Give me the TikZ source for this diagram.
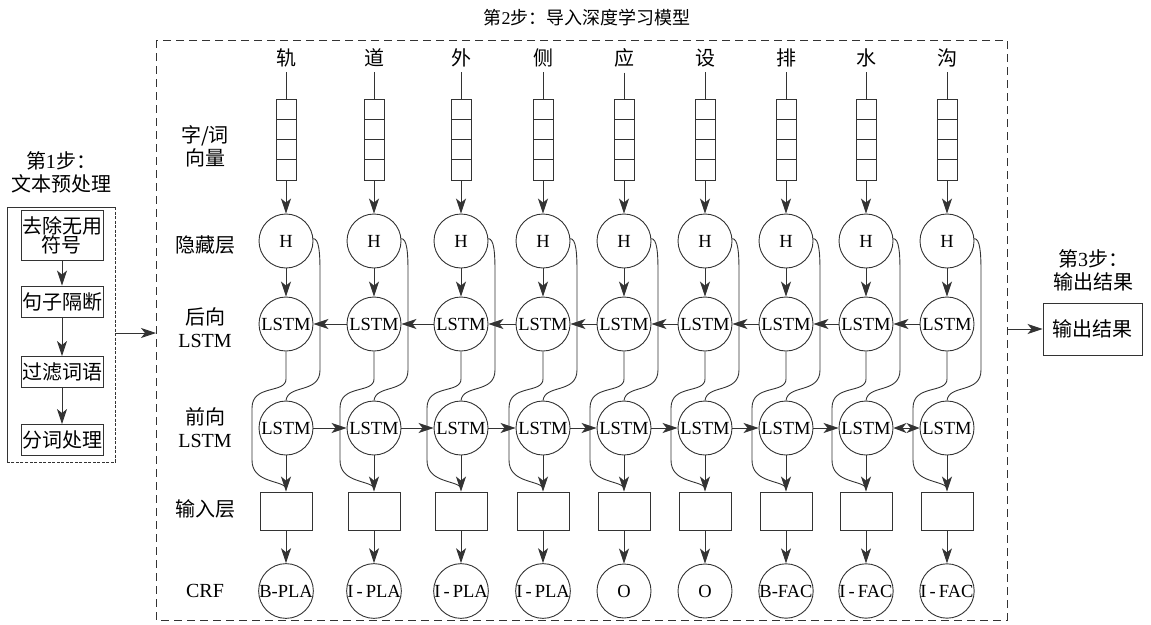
\documentclass[tikz,border=0pt]{standalone}
\usepackage{fontspec}
\setmainfont{Liberation Serif}
\newfontfamily\cjk{Noto Sans CJK SC}
\usetikzlibrary{arrows.meta}
\begin{document}
\begin{tikzpicture}[x=1pt,y=-1pt,
  ln/.style={draw=black!80, line width=0.9pt},
  arr/.style={ln, -{Stealth[length=15pt,width=10pt,inset=4pt]}},
  darr/.style={ln, {Stealth[length=13pt,width=10pt,inset=4pt]}-{Stealth[length=13pt,width=10pt,inset=4pt]}},
  circ/.style={circle, ln, minimum size=54pt, inner sep=0pt, font=\fontsize{18.5}{18.5}\selectfont},
  inbox/.style={rectangle, ln, minimum width=52pt, minimum height=38pt, inner sep=0pt},
  vecbox/.style={rectangle, ln, minimum width=20pt, minimum height=81pt, inner sep=0pt},
  stepbox/.style={rectangle, ln, minimum width=81pt, inner sep=1pt, align=center, font=\fontsize{20}{22}\selectfont\cjk},
  cjklbl/.style={font=\fontsize{20}{23}\selectfont\cjk, align=center, inner sep=0pt},
  mixlbl/.style={font=\fontsize{20}{23}\selectfont, align=center, inner sep=0pt},
  charlbl/.style={font=\fontsize{20}{20}\selectfont\cjk, inner sep=0pt}
]
\useasboundingbox (0,0) rectangle (1151,624);

% main dashed frame
\draw[ln, dash pattern=on 8pt off 5pt] (156,40) rectangle (1007,620);
\node[font=\fontsize{18}{20}\selectfont] (t2) at (587,18) {{\cjk 第}2{\cjk 步：导入深度学习模型}};

% row labels
\node[cjklbl] (lv) at (205,146) {字/词\\向量};
\node[cjklbl] (lh) at (205,245) {隐藏层};
\node[mixlbl] (lb) at (205,328) {{\cjk 后向}\\LSTM};
\node[mixlbl] (lf) at (205,428) {{\cjk 前向}\\LSTM};
\node[cjklbl] (li) at (205,509) {输入层};
\node[mixlbl] (lc) at (205,591) {CRF};

% columns
\foreach \x/\ch/\crf [count=\i] in {
  286/轨/B-PLA, 374/道/I\,-\,PLA, 461/外/I\,-\,PLA, 543/侧/I\,-\,PLA,
  624/应/O, 705/设/O, 786/排/B-FAC, 866/水/I\,-\,FAC, 947/沟/I\,-\,FAC}{
  \node[charlbl] (c\i) at (\x,58) {\ch};
  \node[vecbox] (v\i) at (\x,139.5) {};
  \draw[ln] (\x-10,119.5) -- (\x+10,119.5);
  \draw[ln] (\x-10,139.5) -- (\x+10,139.5);
  \draw[ln] (\x-10,159.5) -- (\x+10,159.5);
  \node[circ] (h\i) at (\x,241) {H};
  \node[circ] (b\i) at (\x,324) {LSTM};
  \node[circ] (f\i) at (\x,428) {LSTM};
  \node[inbox] (in\i) at (\x,511) {};
  \node[circ] (r\i) at (\x,591) {\crf};
  \draw[ln] ([yshift=-5pt]c\i.south) -- (v\i.north);
  \draw[arr] (v\i.south) -- (h\i.north);
  \draw[arr] (h\i.south) -- (b\i.north);
  \draw[arr] (f\i.south) -- (in\i.north);
  \draw[arr] (in\i.south) -- (r\i.north);
  % hidden -> forward LSTM
  \draw[ln] (h\i.5) .. controls (\x+33,239) and (\x+34,252) .. (\x+34,272)
     -- (\x+34,370) .. controls (\x+34,394) and (\x+2,384) .. (f\i.north);
  % backward LSTM -> input layer
  \draw[ln] (b\i.south) -- (\x,379) .. controls (\x,394) and (\x-34,384) .. (\x-34,408)
     -- (\x-34,460) .. controls (\x-34,482) and (\x-8,480) .. (\x,487);
}
\foreach \i [evaluate=\i as \j using int(\i+1)] in {1,...,8}{
  \draw[arr] (b\j.west) -- (b\i.east);
}
\foreach \i [evaluate=\i as \j using int(\i+1)] in {1,...,7}{
  \draw[arr] (f\i.east) -- (f\j.west);
}
\draw[darr] (f8.east) -- (f9.west);

% step 1
\node[cjklbl] (s1) at (61,172) {第{\rmfamily 1}步：\\文本预处理};
\coordinate (o1) at (7,207);
\coordinate (o2) at (115,462);
\draw[ln] (o1 |- o2) -- (o1) -- (o2 |- o1);
\draw[ln, dash pattern=on 3pt off 1.5pt] (o2 |- o1) -- (o2) -- (o1 |- o2);
\node[stepbox, minimum height=50pt] (p1) at (62,235) {去除无用\\[-3pt]符号};
\node[stepbox, minimum height=31pt] (p2) at (62,301.5) {句子隔断};
\node[stepbox, minimum height=31pt] (p3) at (62,372) {过滤词语};
\node[stepbox, minimum height=31pt] (p4) at (62,440) {分词处理};
\draw[arr] (p1) -- (p2);
\draw[arr] (p2) -- (p3);
\draw[arr] (p3) -- (p4);
\coordinate (oe) at (115,333);
\coordinate (me) at (156,333);
\draw[arr] (oe) -- (me);

% step 3
\node[cjklbl] (s3) at (1093,270) {第{\rmfamily 3}步：\\输出结果};
\node[stepbox, minimum width=99pt, minimum height=52pt] (out) at (1092.5,329) {输出结果};
\coordinate (me2) at (1007,329);
\draw[arr] (me2) -- (out.west);
\end{tikzpicture}
\end{document}
